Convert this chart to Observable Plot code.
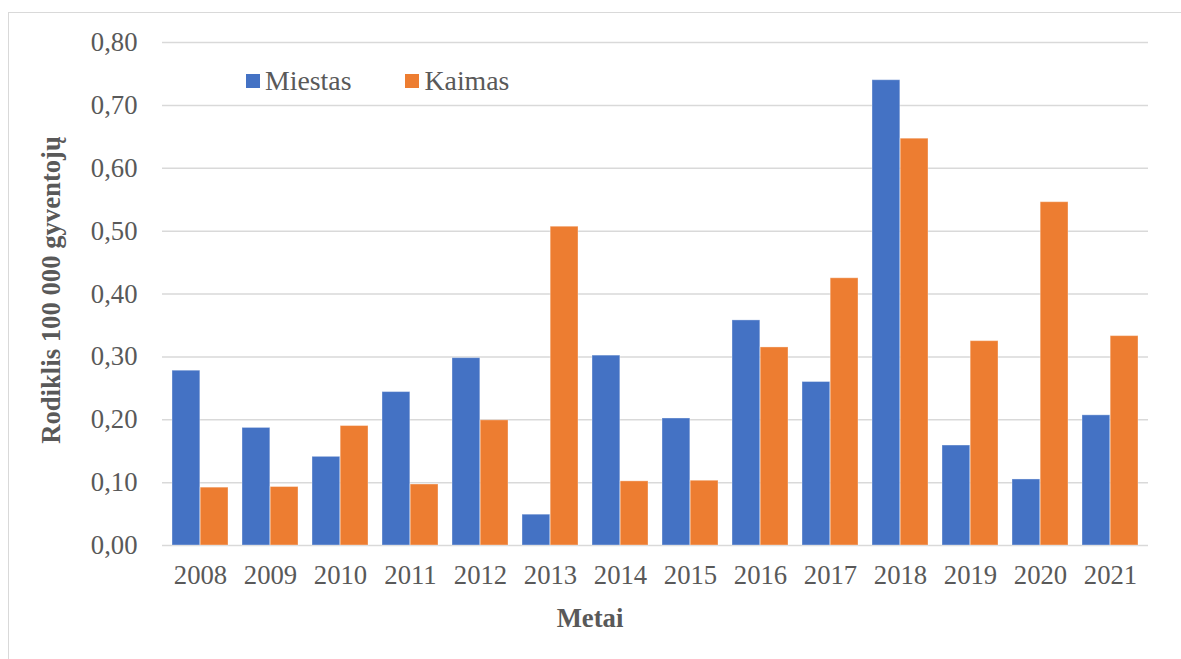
<!DOCTYPE html>
<html>
<head>
<meta charset="utf-8">
<script src="https://cdn.jsdelivr.net/npm/d3@7"></script>
<script src="https://cdn.jsdelivr.net/npm/@observablehq/plot@0.6"></script>
<style>
  html, body { margin: 0; padding: 0; background: #fff; }
  #wrap { position: relative; width: 1181px; height: 659px; overflow: hidden; font-family: "Liberation Serif", serif; color: #595959; }
  #border { position: absolute; left: 8px; top: 12px; width: 1200px; height: 700px; border-left: 1.5px solid #d9d9d9; border-top: 1.5px solid #d9d9d9; box-sizing: border-box; }
  #chart { position: absolute; left: 0; top: 0; }
  #chart svg, #chart svg text { font-family: "Liberation Serif", serif !important; font-size: 26.7px !important; }
  .lbl { position: absolute; font-size: 26.7px; white-space: nowrap; line-height: 1; font-family: "Liberation Serif", serif; }
  #xtitle { font-weight: bold; left: 590px; top: 605px; transform: translateX(-50%); }
  #ytitle { font-weight: bold; left: 51px; top: 290px; transform: translate(-50%, -50%) rotate(-90deg); }
  #legend { position: absolute; left: 246px; top: 65px; display: flex; align-items: center; font-size: 27.8px; font-family: "Liberation Serif", serif; }
  .sw { display: inline-block; width: 14px; height: 14px; margin-right: 5px; }
  .item { display: flex; align-items: center; }
</style>
</head>
<body>
<div id="wrap">
  <div id="border"></div>
  <div id="chart"></div>
  <div id="legend"></div>
  <div class="lbl" id="xtitle">Metai</div>
  <div class="lbl" id="ytitle">Rodiklis 100 000 gyventojų</div>
</div>
<script>
const years = ["2008","2009","2010","2011","2012","2013","2014","2015","2016","2017","2018","2019","2020","2021"];
const series = ["Miestas", "Kaimas"];
const colors = ["#4472C4", "#ED7D31"];
const miestas = [0.278, 0.187, 0.141, 0.244, 0.298, 0.049, 0.302, 0.202, 0.358, 0.260, 0.740, 0.159, 0.105, 0.207];
const kaimas  = [0.092, 0.093, 0.190, 0.097, 0.199, 0.507, 0.102, 0.103, 0.315, 0.425, 0.647, 0.325, 0.546, 0.333];
const yTicks = [0, 0.1, 0.2, 0.3, 0.4, 0.5, 0.6, 0.7, 0.8];

const W = 1181, H = 659, mL = 162, mR = 33, mT = 42, mB = 114;
const pInner = 0.2, pOuter = 0.1;
const step = (W - mL - mR) / (years.length - pInner + 2 * pOuter);
const half = step * (1 - pInner) / 2;

const dataM = years.map((y, i) => ({year: y, series: series[0], value: miestas[i]}));
const dataK = years.map((y, i) => ({year: y, series: series[1], value: kaimas[i]}));

const chart = Plot.plot({
  width: W, height: H,
  marginLeft: mL, marginRight: mR, marginTop: mT, marginBottom: mB,
  style: "font-family: 'Liberation Serif', serif; font-size: 26.7px; color: #595959; background: transparent;",
  x: { domain: years, paddingInner: pInner, paddingOuter: pOuter, align: 0.5, label: null, tickSize: 0, tickPadding: 20 },
  y: { domain: [0, 0.8], ticks: yTicks, tickFormat: d => d.toFixed(2).replace(".", ","), tickSize: 0, tickPadding: 25, label: null },
  color: { domain: series, range: colors },
  marks: [
    Plot.ruleY(yTicks, { stroke: "#d9d9d9", strokeWidth: 1.5 }),
    Plot.barY(dataM, { x: "year", y: "value", fill: "series", insetRight: half, stroke: "#ffffff", strokeOpacity: 0.35, strokeWidth: 1 }),
    Plot.barY(dataK, { x: "year", y: "value", fill: "series", insetLeft: half, stroke: "#ffffff", strokeOpacity: 0.35, strokeWidth: 1 })
  ]
});
document.getElementById("chart").appendChild(chart);

const legend = document.getElementById("legend");
series.forEach((s, i) => {
  const item = document.createElement("div");
  item.className = "item";
  item.style.marginRight = i === 0 ? "54px" : "0";
  const sw = document.createElement("span");
  sw.className = "sw";
  sw.style.background = colors[i];
  const t = document.createElement("span");
  t.textContent = s;
  item.appendChild(sw);
  item.appendChild(t);
  legend.appendChild(item);
});
</script>
</body>
</html>
